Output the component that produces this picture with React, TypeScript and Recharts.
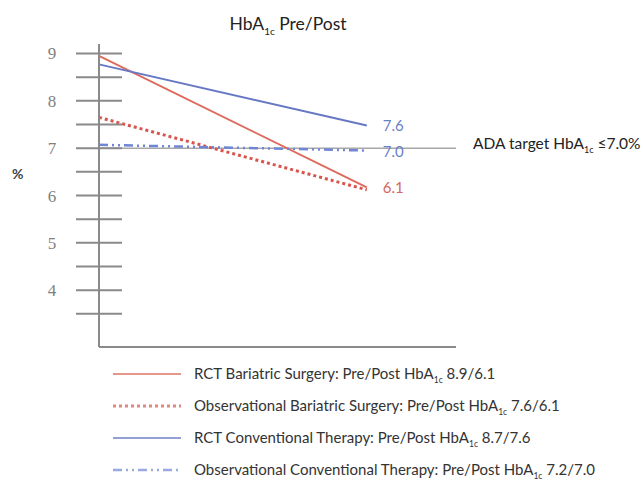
import React from 'react'
import { LineChart, Line, XAxis, YAxis, ReferenceLine } from 'recharts'

// Pre / Post HbA1c values
const categories = ['Pre', 'Post']
const xPos = [0, 1]
const rctSurgery = [8.95, 6.17]
const obsSurgery = [7.65, 6.12]
const rctConventional = [8.77, 7.48]
const obsConventional = [7.07, 6.95]

const yTicks = [3.5, 4, 4.5, 5, 5.5, 6, 6.5, 7, 7.5, 8, 8.5, 9]
const endLabels = { rctSurgery: '6.1', rctConventional: '7.6', obsConventional: '7.0' }
const adaTarget = 7

const series = [
  { key: 'rctSurgery', name: 'RCT Bariatric Surgery: Pre/Post HbA', tail: ' 8.9/6.1', color: '#de6a5c', dash: undefined, width: 2 },
  { key: 'obsSurgery', name: 'Observational Bariatric Surgery: Pre/Post HbA', tail: ' 7.6/6.1', color: '#d9544c', dash: '3 3', width: 3 },
  { key: 'rctConventional', name: 'RCT Conventional Therapy: Pre/Post HbA', tail: ' 8.7/7.6', color: '#6678c4', dash: undefined, width: 2 },
  { key: 'obsConventional', name: 'Observational Conventional Therapy: Pre/Post HbA', tail: ' 7.2/7.0', color: '#6f86d6', dash: '9 4 2 4 2 4', width: 2.5 },
]

const data = categories.map((c, i) => ({
  name: c,
  x: xPos[i],
  rctSurgery: rctSurgery[i],
  obsSurgery: obsSurgery[i],
  rctConventional: rctConventional[i],
  obsConventional: obsConventional[i],
}))

const font = 'Lato, "Open Sans", sans-serif'

function YTick(props: any) {
  const { x, y, payload } = props
  const isInt = Number.isInteger(payload.value)
  return (
    <g>
      <line x1={x - 23} x2={x + 23} y1={y} y2={y} stroke="#8a8a8a" strokeWidth={2} />
      {isInt && (
        <text x={x - 47} y={y + 6} textAnchor="middle" fontFamily='"Liberation Serif", serif' fontSize={17} fill="#808080">
          {payload.value}
        </text>
      )}
    </g>
  )
}

function endLabel(key: string, color: string) {
  const txt = (endLabels as any)[key]
  if (!txt) return undefined
  return (p: any) => {
    if (p.index !== categories.length - 1) return null
    return (
      <text x={p.x + 16} y={p.y + 6} fontFamily={font} fontSize={15} fill={color}>
        {txt}
      </text>
    )
  }
}

function AdaLabel(props: any) {
  const vb = props.viewBox
  return (
    <text x={vb.x + vb.width + 17} y={vb.y + 1} fontFamily={font} fontSize={15.5} fill="#222">
      ADA target HbA<tspan fontSize={9} dy={4}>1c</tspan>
      <tspan dy={-4}> ≤7.0%</tspan>
    </text>
  )
}

function Swatch({ color, dash, width }: { color: string; dash?: string; width: number }) {
  return (
    <svg width={70} height={10} style={{ display: 'block' }}>
      <line x1={0} x2={68} y1={5} y2={5} stroke={color} strokeWidth={width} strokeDasharray={dash} opacity={0.7} />
    </svg>
  )
}

export default function App() {
  return (
    <div style={{ position: 'absolute', left: 0, top: 0, width: 643, height: 484, background: '#fff', fontFamily: font }}>
      <div style={{ position: 'absolute', left: 0, width: 576, top: 13, textAlign: 'center', fontSize: 17.5, color: '#222' }}>
        HbA<sub style={{ fontSize: 10 }}>1c</sub> Pre/Post
      </div>
      <div style={{ position: 'absolute', left: 12, top: 165, fontSize: 14, color: '#444', fontWeight: 700 }}>%</div>
      <LineChart width={643} height={484} data={data} margin={{ top: 44, right: 187, bottom: 136, left: 0 }}>
        <XAxis
          dataKey="x"
          type="number"
          domain={[0, 1.333]}
          height={1}
          tick={false}
          tickLine={false}
          axisLine={{ stroke: '#8a8a8a', strokeWidth: 2 }}
        />
        <YAxis
          width={99}
          domain={[2.8, 9.2]}
          ticks={yTicks}
          interval={0}
          tickSize={0}
          tickMargin={0}
          tickLine={false}
          tick={<YTick />}
          axisLine={{ stroke: '#8a8a8a', strokeWidth: 2 }}
        />
        <ReferenceLine y={adaTarget} stroke="#a8a8a8" strokeWidth={1.5} label={<AdaLabel />} />
        {series.map((s) => (
          <Line
            key={s.key}
            dataKey={s.key}
            stroke={s.color}
            strokeWidth={s.width}
            strokeDasharray={s.dash}
            dot={false}
            activeDot={false}
            isAnimationActive={false}
            label={endLabel(s.key, s.key === 'rctSurgery' ? '#d4695e' : '#6a7fc8')}
          />
        ))}
      </LineChart>
      <div style={{ position: 'absolute', left: 113, top: 358 }}>
        {series.map((s) => (
          <div key={s.key} style={{ display: 'flex', alignItems: 'center', height: 32, fontSize: 15, color: '#333' }}>
            <Swatch color={s.color} dash={s.dash} width={s.width} />
            <span style={{ marginLeft: 11, whiteSpace: 'nowrap' }}>
              {s.name}
              <sub style={{ fontSize: 8.5 }}>1c</sub>
              {s.tail}
            </span>
          </div>
        ))}
      </div>
    </div>
  )
}
